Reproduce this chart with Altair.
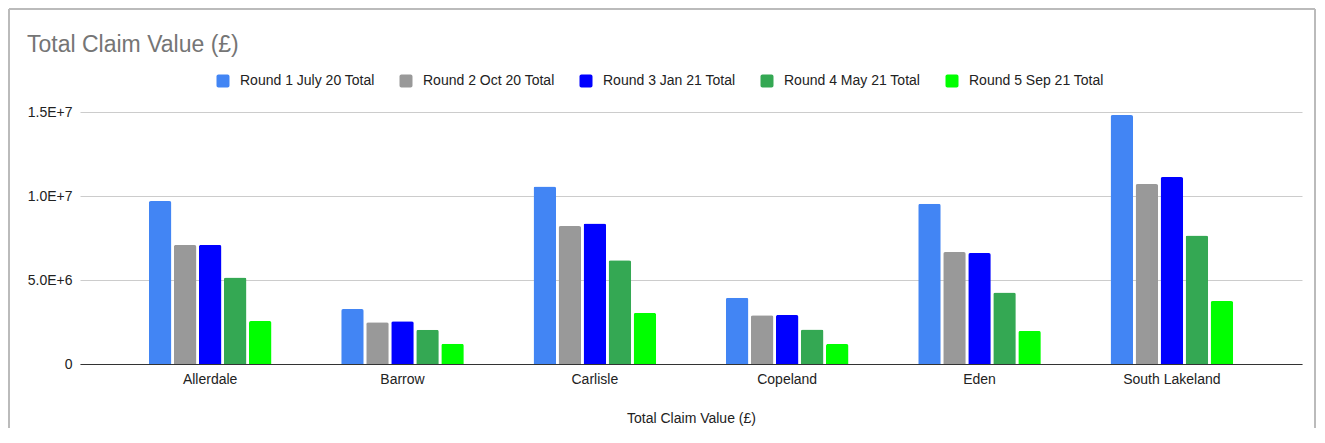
import altair as alt
import pandas as pd

# ---- data ----
districts = ["Allerdale", "Barrow", "Carlisle", "Copeland", "Eden", "South Lakeland"]
series = [
    "Round 1 July 20 Total",
    "Round 2 Oct 20 Total",
    "Round 3 Jan 21 Total",
    "Round 4 May 21 Total",
    "Round 5 Sep 21 Total",
]
round1 = [9700000, 3270000, 10570000, 3950000, 9540000, 14820000]
round2 = [7080000, 2480000, 8210000, 2900000, 6660000, 10710000]
round3 = [7090000, 2540000, 8370000, 2910000, 6600000, 11130000]
round4 = [5150000, 2040000, 6170000, 2050000, 4250000, 7650000]
round5 = [2560000, 1200000, 3040000, 1190000, 1970000, 3750000]
colors = ["#4285f4", "#999999", "#0000ff", "#34a853", "#00ff00"]
y_ticks = [0, 5000000, 10000000, 15000000]
y_tick_labels = ["0", "5.0E+6", "1.0E+7", "1.5E+7"]
chart_title = "Total Claim Value (£)"
x_title = "Total Claim Value (£)"

FONT = "Liberation Sans"

rows = []
for s, vals in zip(series, [round1, round2, round3, round4, round5]):
    for d, v in zip(districts, vals):
        rows.append({"district": d, "series": s, "value": v})
df = pd.DataFrame(rows)

label_expr = "'" + y_tick_labels[-1] + "'"
for t, l in reversed(list(zip(y_ticks[:-1], y_tick_labels[:-1]))):
    label_expr = f"datum.value == {t} ? '{l}' : " + label_expr

rounded_square = ("M-0.7,-1 H0.7 A0.3,0.3 0 0 1 1,-0.7 V0.7 A0.3,0.3 0 0 1 0.7,1 "
                  "H-0.7 A0.3,0.3 0 0 1 -1,0.7 V-0.7 A0.3,0.3 0 0 1 -0.7,-1 Z")

bars = alt.Chart(df).mark_bar(cornerRadiusTopLeft=2, cornerRadiusTopRight=2).encode(
    x=alt.X(
        "district:N",
        sort=districts,
        scale=alt.Scale(paddingInner=0.3626, paddingOuter=0.358),
        axis=alt.Axis(
            title=x_title, labelAngle=0, ticks=False, tickSize=0, grid=False,
            domainColor="#333333", domainWidth=1, labelPadding=8,
            labelFontSize=14, labelColor="#222222", labelFont=FONT,
            titleFontSize=14, titleFontWeight="normal", titleColor="#222222",
            titleFont=FONT, titlePadding=25,
        ),
    ),
    xOffset=alt.XOffset("series:N", sort=series,
                        scale=alt.Scale(paddingInner=0.1, paddingOuter=0)),
    y=alt.Y(
        "value:Q",
        scale=alt.Scale(domain=[0, 15000000], nice=False),
        axis=alt.Axis(
            title=None, values=y_ticks, labelExpr=label_expr, domain=False,
            ticks=False, tickSize=0, gridColor="#cccccc", gridWidth=1,
            labelPadding=8, labelFontSize=14, labelColor="#222222", labelFont=FONT,
        ),
    ),
    color=alt.Color(
        "series:N",
        sort=series,
        scale=alt.Scale(domain=series, range=colors),
        legend=alt.Legend(
            title=None, orient="none", legendX=136, legendY=-38,
            direction="horizontal", symbolType=rounded_square, symbolSize=169,
            symbolStrokeWidth=0, symbolOpacity=1, labelFontSize=14,
            labelColor="#222222", labelFont=FONT, labelOffset=10,
            columnPadding=24, padding=0,
        ),
    ),
)

one = alt.Data(values=[{"k": 1}])
frame_color = "#bbbbbb"
left_edge = alt.Chart(one).mark_rule(color=frame_color, strokeWidth=2).encode(
    x=alt.value(-71), y=alt.value(-103), y2=alt.value(316))
right_edge = alt.Chart(one).mark_rule(color=frame_color, strokeWidth=2).encode(
    x=alt.value(1235), y=alt.value(-103), y2=alt.value(316))
top_edge = alt.Chart(one).mark_rule(color=frame_color, strokeWidth=2).encode(
    x=alt.value(-71), x2=alt.value(1235), y=alt.value(-103))

title = alt.Chart(one).mark_text(
    align="left", baseline="alphabetic", fontSize=23, color="#757575", font=FONT
).encode(x=alt.value(-53), y=alt.value(-60), text=alt.value(chart_title))

chart = alt.layer(bars, left_edge, right_edge, top_edge, title).properties(
    width=1222, height=252, padding=0
).configure(font=FONT).configure_view(strokeWidth=0)

chart.save("out.html", embed_options={"renderer": "svg", "actions": False})
